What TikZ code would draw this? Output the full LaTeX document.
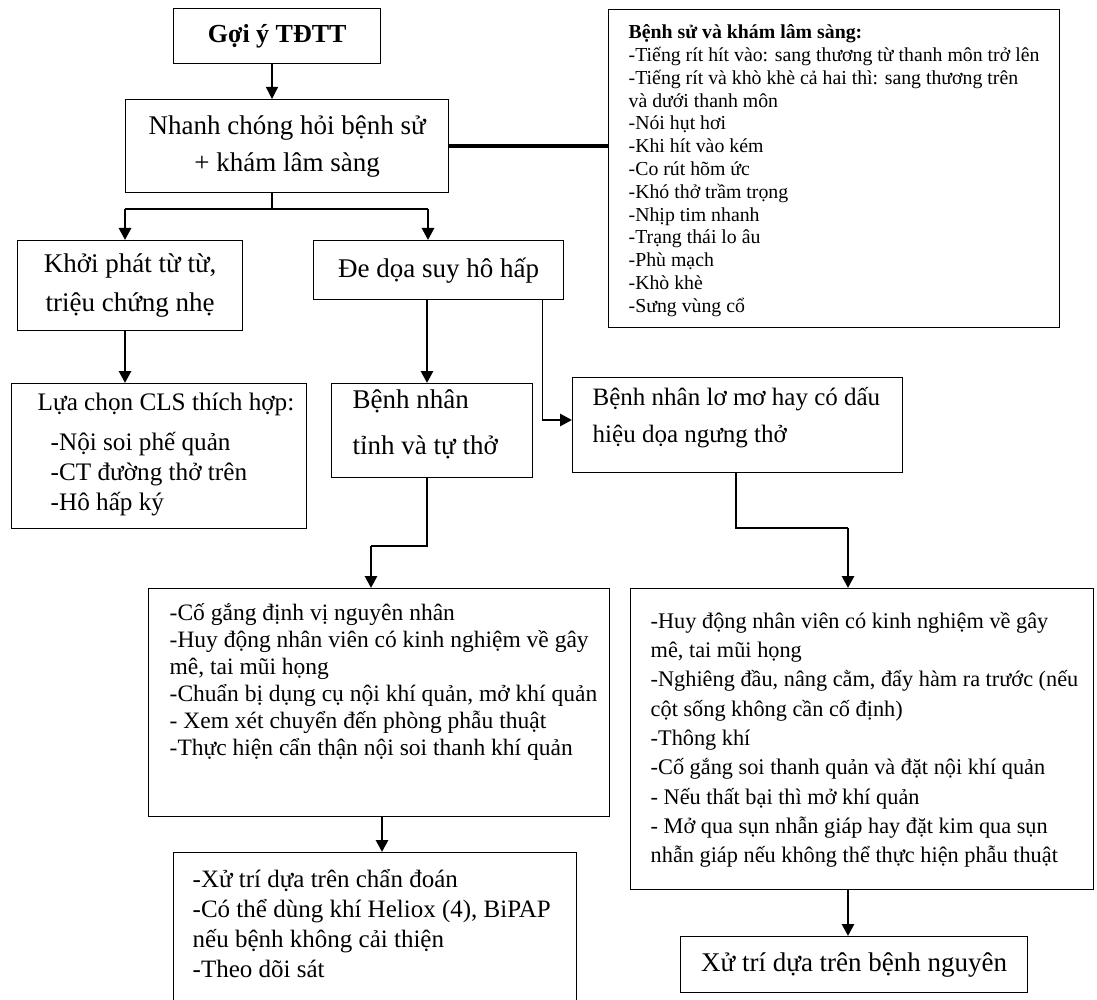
\documentclass[tikz,border=0pt]{standalone}
\usepackage{fontspec}
\setmainfont{Liberation Serif}
\usetikzlibrary{arrows.meta}
\tikzset{
  box/.style={draw, line width=1.4pt, inner sep=0pt, anchor=north west},
  thinline/.style={line width=1.3pt},
  thickline/.style={line width=2.8pt},
  tip/.style={-{Triangle[width=12pt,length=12pt]}},
}
% framed text area: width, height, left pad, top pad, font size, line skip, lines
\newcommand\pane[7]{\begin{minipage}[c][\dimexpr#2pt-#4pt-#4pt\relax][t]{\dimexpr#1pt-#3pt-#3pt\relax}\fontsize{#5}{#6}\selectfont
\begin{tabular}[t]{@{}l@{}}#7\end{tabular}\end{minipage}}
\begin{document}
\begin{tikzpicture}[x=1pt,y=-1pt]
\useasboundingbox (0,0) rectangle (1097,1000);
\clip (0,0) rectangle (1097,1000);
\fill[white] (0,0) rectangle (1097,1000);

% boxes
\node[box, minimum width=207pt, minimum height=55pt, font=\fontsize{26}{30}\selectfont\bfseries] (g) at (173,8) {Gợi ý TĐTT};
\node[box, minimum width=323pt, minimum height=93pt, align=center, font=\fontsize{27}{37}\selectfont] (n) at (125,99) {Nhanh chóng hỏi bệnh sử\\+ khám lâm sàng};
\node[box, minimum width=451pt, minimum height=318pt] (bs) at (608,9) {\pane{451}{318}{20}{13}{19.8}{22.8}{%
\textbf{Bệnh sử và khám lâm sàng:}\\
-Tiếng rít hít vào: sang thương từ thanh môn trở lên\\
-Tiếng rít và khò khè cả hai thì: sang thương trên\\
và dưới thanh môn\\
-Nói hụt hơi\\
-Khi hít vào kém\\
-Co rút hõm ức\\
-Khó thở trầm trọng\\
-Nhịp tim nhanh\\
-Trạng thái lo âu\\
-Phù mạch\\
-Khò khè\\
-Sưng vùng cổ}};
\node[box, minimum width=225pt, minimum height=90pt, align=center, font=\fontsize{27}{39}\selectfont] (k) at (17,240) {Khởi phát từ từ,\\triệu chứng nhẹ};
\node[box, minimum width=250pt, minimum height=59pt, font=\fontsize{27}{32}\selectfont] (d) at (313,240) {Đe dọa suy hô hấp};
\node[box, minimum width=295pt, minimum height=145pt] (l) at (11,383) {\pane{295}{145}{26}{5.3}{25.2}{30}{%
Lựa chọn CLS thích hợp:\\[10pt]
\hspace*{13pt}-Nội soi phế quản\\
\hspace*{13pt}-CT đường thở trên\\
\hspace*{13pt}-Hô hấp ký}};
\node[box, minimum width=201pt, minimum height=94pt] (b) at (331,383) {\pane{201}{94}{21}{2.6}{27}{32}{%
Bệnh nhân\\[14pt]tỉnh và tự thở}};
\node[box, minimum width=330pt, minimum height=95pt] (lm) at (572,377) {\pane{330}{95}{20}{2}{25}{37}{%
Bệnh nhân lơ mơ hay có dấu\\hiệu dọa ngưng thở}};
\node[box, minimum width=461pt, minimum height=228pt] (mid) at (148,588) {\pane{461}{228}{21}{13}{23.5}{27}{%
-Cố gắng định vị nguyên nhân\\
-Huy động nhân viên có kinh nghiệm về gây\\
mê, tai mũi họng\\
-Chuẩn bị dụng cụ nội khí quản, mở khí quản\\
- Xem xét chuyển đến phòng phẫu thuật\\
-Thực hiện cẩn thận nội soi thanh khí quản}};
\node[box, minimum width=463pt, minimum height=301pt] (rb) at (630,588) {\pane{463}{301}{20}{19}{22.3}{29.3}{%
-Huy động nhân viên có kinh nghiệm về gây\\
mê, tai mũi họng\\
-Nghiêng đầu, nâng cằm, đẩy hàm ra trước (nếu\\
cột sống không cần cố định)\\
-Thông khí\\
-Cố gắng soi thanh quản và đặt nội khí quản\\
- Nếu thất bại thì mở khí quản\\
- Mở qua sụn nhẫn giáp hay đặt kim qua sụn\\
nhẫn giáp nếu không thể thực hiện phẫu thuật}};
\node[box, minimum width=403pt, minimum height=160pt] (bl) at (173,852) {\pane{403}{160}{19}{14}{25}{30}{%
-Xử trí dựa trên chẩn đoán\\
-Có thể dùng khí Heliox (4), BiPAP\\
nếu bệnh không cải thiện\\
-Theo dõi sát}};
\node[box, minimum width=347pt, minimum height=56pt, font=\fontsize{27}{32}\selectfont] (xt) at (680,936) {Xử trí dựa trên bệnh nguyên};

% bend and column points of the connectors
\coordinate (ca) at (272,0);
\coordinate (br) at (272,209);
\coordinate (b1) at (125,209);
\coordinate (b2) at (428,209);
\coordinate (c2) at (125,0);
\coordinate (c3) at (427,0);
\coordinate (c4) at (542,420);
\coordinate (c5) at (427,546);
\coordinate (c6) at (371,546);
\coordinate (c7) at (736,528);
\coordinate (c8) at (848,528);
\coordinate (c9) at (382,0);
\coordinate (c10) at (848,0);

% connectors
\draw[thinline,tip] (g.south -| ca) -- (n.north -| ca);
\draw[line width=4pt] (n.east) -- (n.east -| bs.west);
\draw[thinline] (n.south -| br) -- (br);
\draw[thinline] (b1) -- (b2);
\draw[thickline,tip] (b1) -- (b1 |- k.north);
\draw[thickline,tip] (b2) -- (b2 |- d.north);
\draw[thickline,tip] (k.south -| c2) -- (l.north -| c2);
\draw[thickline,tip] (d.south -| c3) -- (b.north -| c3);
\draw[line width=1pt] (d.south -| c4) -- (c4);
\draw[thickline,tip] (c4) -- (c4 -| lm.west);
\draw[thinline] (b.south -| c5) -- (c5) -- (c6);
\draw[thickline,tip] (c6) -- (c6 |- mid.north);
\draw[thinline] (lm.south -| c7) -- (c7) -- (c8);
\draw[thickline,tip] (c8) -- (c8 |- rb.north);
\draw[thickline,tip] (mid.south -| c9) -- (bl.north -| c9);
\draw[thickline,tip] (rb.south -| c10) -- (xt.north -| c10);
\end{tikzpicture}
\end{document}
